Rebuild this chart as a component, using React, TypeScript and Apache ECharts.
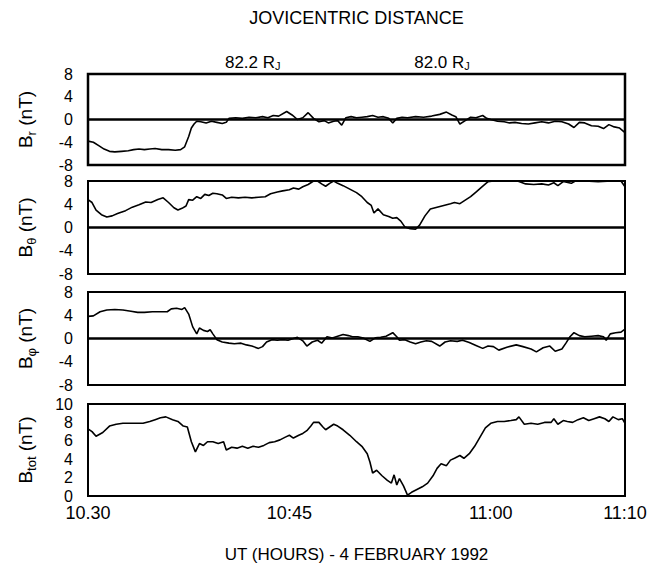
import React, { useEffect, useRef } from "react";
import * as echarts from "echarts";

// time in minutes after 10:30 UT, value in nT
const brData: number[][] = [
  [0, -3.8], [0.4, -4.0], [0.8, -4.6], [1.2, -5.2], [1.6, -5.6], [2.0, -5.7], [2.5, -5.6], [3.0, -5.5],
  [3.4, -5.3], [3.8, -5.2], [4.2, -5.3], [4.6, -5.2], [5.0, -5.1], [5.5, -5.3], [6.0, -5.3], [6.5, -5.4],
  [6.9, -5.3], [7.2, -4.8], [7.5, -3.0], [7.7, -1.5], [7.9, -0.8], [8.1, -0.3], [8.4, -0.4], [8.8, -0.6],
  [9.2, -0.3], [9.6, -0.5], [10.0, -0.7], [10.3, -0.5], [10.5, 0.2], [11.0, 0.3], [11.5, 0.2], [12.0, 0.4],
  [12.5, 0.3], [13.0, 0.5], [13.4, 0.3], [13.8, 0.7], [14.2, 0.6], [14.8, 1.4], [15.2, 0.8], [15.6, 0.0],
  [16.0, 0.3], [16.4, 1.2], [16.8, 0.2], [17.2, -0.4], [17.6, -0.2], [17.9, -0.6], [18.3, -0.3], [18.6, -0.2],
  [18.9, -1.0], [19.2, 0.3], [19.6, 0.5], [20.0, 0.3], [20.4, 0.4], [20.8, 0.5], [21.2, 0.7], [21.6, 0.4],
  [22.0, 0.5], [22.4, 0.2], [22.7, -0.6], [23.0, 0.2], [23.4, 0.4], [23.8, 0.3], [24.4, 0.5], [25.0, 0.4],
  [25.6, 0.6], [26.2, 0.9], [26.7, 1.3], [27.1, 0.8], [27.4, 0.5], [27.7, -0.8], [28.1, -0.2], [28.5, 0.4],
  [28.9, 0.3], [29.4, 0.7], [29.7, 0.2], [30.0, 0.0], [30.5, -0.3], [31.0, -0.4], [31.4, -0.6], [31.8, -0.5],
  [32.3, -0.7], [32.8, -0.8], [33.3, -0.6], [33.8, -0.4], [34.3, -0.6], [34.8, -0.3], [35.3, -0.4], [35.8, -0.8],
  [36.2, -1.4], [36.6, -0.5], [37.0, -0.6], [37.5, -1.1], [38.0, -1.2], [38.4, -1.6], [38.8, -0.9], [39.2, -1.3],
  [39.6, -1.5], [40.0, -2.3],
];

const bthetaData: number[][] = [
  [0, 4.8], [0.3, 4.3], [0.6, 3.0], [1.0, 2.2], [1.4, 1.8], [1.8, 2.0], [2.2, 2.4], [2.8, 2.9],
  [3.3, 3.5], [3.8, 3.9], [4.3, 4.4], [4.7, 4.3], [5.2, 4.8], [5.6, 5.1], [6.0, 4.3], [6.4, 3.4],
  [6.7, 3.0], [7.0, 3.3], [7.3, 3.7], [7.5, 4.8], [7.8, 4.7], [8.1, 5.3], [8.4, 5.0], [8.7, 5.7],
  [9.0, 5.5], [9.3, 5.9], [9.6, 5.8], [10.0, 5.6], [10.3, 5.0], [10.7, 5.2], [11.2, 5.1], [11.7, 5.2],
  [12.2, 5.1], [12.7, 5.2], [13.2, 5.3], [13.6, 5.8], [14.1, 6.1], [14.5, 6.3], [15.0, 6.5], [15.3, 6.8],
  [15.7, 6.6], [16.0, 7.0], [16.4, 7.4], [16.8, 8.0], [17.1, 8.0], [17.4, 7.5], [17.7, 7.1], [18.0, 7.6],
  [18.3, 8.0], [18.6, 7.6], [19.0, 7.2], [19.5, 6.6], [20.0, 6.0], [20.4, 5.3], [20.8, 4.3], [21.1, 3.8],
  [21.3, 2.5], [21.6, 3.2], [22.0, 2.2], [22.4, 1.9], [22.7, 1.6], [23.0, 1.7], [23.3, 1.1], [23.6, 0.1],
  [24.0, -0.2], [24.4, -0.3], [24.7, 0.4], [25.1, 2.0], [25.5, 3.2], [26.0, 3.5], [26.5, 3.8], [27.0, 4.1],
  [27.3, 4.3], [27.7, 4.1], [28.1, 4.7], [28.5, 5.3], [28.9, 6.1], [29.3, 6.9], [29.8, 7.9], [30.2, 8.0],
  [31.0, 8.0], [32.0, 8.0], [32.6, 7.5], [33.2, 7.4], [33.8, 7.5], [34.3, 7.3], [34.7, 7.7], [35.0, 7.2],
  [35.4, 7.9], [36.0, 7.6], [36.3, 8.0], [37.0, 8.0], [38.0, 7.9], [39.0, 8.0], [39.7, 8.0], [40.0, 7.0],
];

const bphiData: number[][] = [
  [0, 3.8], [0.4, 3.9], [0.9, 4.6], [1.4, 4.9], [2.0, 5.0], [2.6, 4.9], [3.2, 4.7], [3.7, 4.5],
  [4.2, 4.5], [4.8, 4.6], [5.4, 4.6], [5.9, 4.6], [6.2, 5.1], [6.6, 5.2], [7.0, 5.0], [7.2, 5.3],
  [7.5, 4.2], [7.8, 2.0], [8.1, 0.8], [8.3, 1.8], [8.6, 1.4], [8.9, 1.2], [9.1, 1.5], [9.3, 0.8],
  [9.6, -0.2], [10.0, -0.6], [10.5, -0.8], [10.9, -0.9], [11.4, -0.8], [11.8, -1.1], [12.2, -1.3], [12.7, -1.7],
  [13.0, -1.4], [13.3, -0.6], [13.7, -0.2], [14.1, -0.3], [14.5, -0.2], [14.9, -0.3], [15.3, 0.0], [15.6, 0.2],
  [16.0, -0.4], [16.3, -1.3], [16.7, -0.6], [17.1, -0.3], [17.4, -0.8], [17.8, 0.3], [18.2, 0.1], [18.6, 0.4],
  [19.0, 0.7], [19.4, 0.5], [19.7, 0.3], [20.1, 0.3], [20.5, 0.1], [21.0, -0.5], [21.4, 0.1], [21.8, 0.2],
  [22.2, 0.4], [22.7, 1.0], [23.0, 0.3], [23.2, -0.3], [23.6, -0.2], [24.0, -0.6], [24.4, -0.9], [24.8, -0.6],
  [25.2, -0.4], [25.6, -0.5], [26.2, -1.3], [26.6, -0.6], [27.0, -0.4], [27.5, -0.5], [27.9, -0.3], [28.4, -0.7],
  [28.9, -1.2], [29.4, -1.7], [29.8, -1.3], [30.2, -1.4], [30.6, -2.0], [31.2, -1.5], [31.9, -1.1], [32.4, -1.4],
  [33.0, -1.8], [33.4, -2.3], [33.9, -1.6], [34.4, -1.3], [34.8, -2.2], [35.3, -1.8], [35.6, -0.8], [35.9, 0.3],
  [36.2, 1.0], [36.6, 0.5], [37.0, 0.3], [37.5, 0.4], [38.0, 0.5], [38.4, 0.3], [38.6, -0.3], [38.9, 0.8],
  [39.3, 1.0], [39.7, 1.1], [40.0, 1.6],
];

const btotData: number[][] = [
  [0, 7.3], [0.3, 7.0], [0.6, 6.5], [1.1, 6.9], [1.6, 7.6], [2.1, 7.8], [2.6, 7.9], [3.2, 7.9],
  [3.7, 7.9], [4.1, 7.9], [4.6, 8.1], [5.0, 8.3], [5.4, 8.5], [5.8, 8.6], [6.3, 8.3], [6.7, 8.1],
  [7.1, 7.6], [7.4, 7.5], [7.7, 5.9], [8.0, 4.8], [8.3, 5.7], [8.6, 5.5], [8.9, 5.9], [9.3, 5.9],
  [9.7, 5.7], [10.1, 5.9], [10.3, 5.0], [10.7, 5.3], [11.1, 5.2], [11.5, 5.4], [11.9, 5.2], [12.3, 5.4],
  [12.7, 5.3], [13.1, 5.5], [13.5, 5.8], [13.9, 5.9], [14.3, 6.1], [14.7, 6.4], [15.0, 6.6], [15.3, 6.3],
  [15.7, 6.6], [16.0, 6.8], [16.3, 7.1], [16.6, 7.6], [16.8, 8.0], [17.2, 8.0], [17.5, 7.5], [17.7, 7.2],
  [18.0, 7.5], [18.3, 7.8], [18.6, 7.6], [19.0, 7.2], [19.5, 6.6], [20.0, 5.9], [20.4, 5.4], [20.8, 4.6],
  [21.0, 3.7], [21.2, 2.5], [21.5, 2.8], [21.9, 2.2], [22.3, 1.7], [22.6, 1.4], [22.8, 2.3], [23.0, 1.2],
  [23.2, 1.9], [23.5, 1.1], [23.8, 0.1], [24.1, 0.4], [24.5, 0.7], [24.9, 1.0], [25.3, 1.4], [25.7, 2.2],
  [26.0, 3.0], [26.3, 3.5], [26.7, 3.3], [27.0, 3.9], [27.3, 4.1], [27.7, 4.4], [28.0, 4.1], [28.4, 4.6],
  [28.8, 5.4], [29.2, 6.4], [29.6, 7.4], [30.0, 7.9], [30.5, 8.1], [31.0, 8.1], [31.5, 8.2], [31.9, 8.3],
  [32.1, 8.6], [32.5, 7.8], [33.0, 7.9], [33.5, 7.8], [34.0, 8.0], [34.5, 8.0], [34.7, 8.4], [35.0, 7.8],
  [35.4, 8.2], [35.7, 8.1], [36.1, 8.0], [36.5, 8.3], [36.9, 8.5], [37.3, 8.2], [37.7, 8.4], [38.1, 8.6],
  [38.5, 8.4], [38.8, 8.1], [39.1, 8.6], [39.5, 8.3], [39.8, 8.4], [40.0, 7.9],
];

const xTickValues = [0, 15, 30, 40];
const xTickLabels = ["10.30", "10:45", "11:00", "11:10"];
const componentTicks = [-8, -4, 0, 4, 8];
const totTicks = [0, 2, 4, 6, 8, 10];
const panelNames = ["{m|B}{s|r}{m| (nT)}", "{m|B}{s|θ}{m| (nT)}", "{m|B}{s|φ}{m| (nT)}", "{m|B}{s|tot}{m| (nT)}"];
const distanceLabels = ["82.2 R{s|J}", "82.0 R{s|J}"];
const distanceTimes = [10.2, 24.3];

const FONT = "'Liberation Sans', Arial, Helvetica, sans-serif";

export default function App() {
  const ref = useRef<HTMLDivElement>(null);

  useEffect(() => {
    if (!ref.current) return;
    const chart = echarts.init(ref.current, null, { renderer: "svg" });

    const left = 88;
    const right = 26;
    const plotW = 651 - left - right;
    const grids = [
      { top: 74, height: 91 },
      { top: 181, height: 93 },
      { top: 292, height: 93 },
      { top: 404, height: 92 },
    ];
    const datasets = [brData, bthetaData, bphiData, btotData];

    const nameRich = {
      m: { fontSize: 19, fontFamily: FONT, color: "#000", lineHeight: 26 },
      s: { fontSize: 13, fontFamily: FONT, color: "#000", lineHeight: 12, verticalAlign: "bottom" as const },
    };

    const option: any = {
      animation: false,
      backgroundColor: "#fff",
      grid: grids.map((g, i) => ({
        left,
        width: plotW,
        top: g.top,
        height: g.height,
        show: true,
        borderColor: "#000",
        borderWidth: i === 0 ? 2.5 : 2,
        backgroundColor: "transparent",
      })),
      xAxis: grids.map((_, i) => ({
        type: "value",
        gridIndex: i,
        min: 0,
        max: 40,
        interval: 5,
        axisLine: { show: false },
        axisTick: { show: false },
        splitLine: { show: false },
        axisLabel: {
          show: i === 3,
          margin: 8,
          fontSize: 18,
          fontFamily: FONT,
          color: "#000",
          showMinLabel: true,
          showMaxLabel: true,
          formatter: (v: number) => {
            const k = xTickValues.indexOf(v);
            return k >= 0 ? xTickLabels[k] : "";
          },
        },
      })),
      yAxis: grids.map((_, i) => {
        const ticks = i === 3 ? totTicks : componentTicks;
        return {
          type: "value",
          gridIndex: i,
          min: ticks[0],
          max: ticks[ticks.length - 1],
          interval: ticks[1] - ticks[0],
          axisLine: { show: false },
          axisTick: { show: false },
          splitLine: { show: false },
          axisLabel: { fontSize: 16, fontFamily: FONT, color: "#000", margin: 15 },
          name: panelNames[i],
          nameLocation: "middle",
          nameRotate: 90,
          nameGap: 50,
          nameTextStyle: { rich: nameRich },
        };
      }),
      series: datasets.map((d, i) => ({
        type: "line",
        xAxisIndex: i,
        yAxisIndex: i,
        data: d,
        showSymbol: false,
        symbol: "none",
        lineStyle: { color: "#000", width: 1.6 },
        markLine:
          i < 3
            ? {
                silent: true,
                symbol: "none",
                label: { show: false },
                lineStyle: { color: "#000", width: 2.5, type: "solid" },
                data: [{ yAxis: 0 }],
              }
            : undefined,
      })),
      graphic: [
        {
          type: "text",
          x: left + plotW / 2,
          y: 18,
          style: {
            text: "JOVICENTRIC DISTANCE",
            font: `18px ${FONT}`,
            fill: "#000",
            align: "center",
            verticalAlign: "middle",
          },
        },
        ...distanceLabels.map((t, k) => ({
          type: "text",
          x: left + (distanceTimes[k] / 40) * plotW,
          y: 71,
          style: {
            text: t,
            font: `17px ${FONT}`,
            fill: "#000",
            align: "left",
            verticalAlign: "bottom",
            rich: {
              s: { fontSize: 11, fontFamily: FONT, fill: "#000", verticalAlign: "bottom", lineHeight: 6 },
            },
          },
        })),
        {
          type: "text",
          x: left + plotW / 2,
          y: 554,
          style: {
            text: "UT (HOURS) - 4 FEBRUARY 1992",
            font: `17px ${FONT}`,
            fill: "#000",
            align: "center",
            verticalAlign: "middle",
          },
        },
      ],
    };

    chart.setOption(option);
    return () => chart.dispose();
  }, []);

  return (
    <div
      ref={ref}
      style={{ position: "fixed", left: 0, top: 0, width: 651, height: 571, background: "#fff" }}
    />
  );
}
